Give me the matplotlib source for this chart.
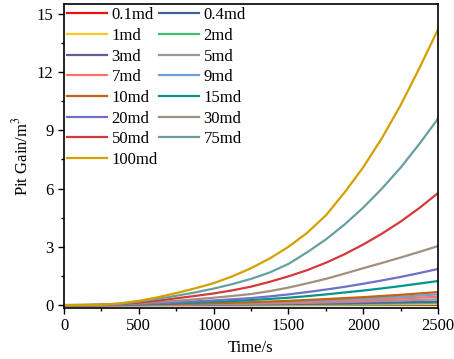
import numpy as np
import matplotlib.pyplot as plt
from matplotlib.ticker import MultipleLocator

plt.rcParams['font.family'] = ['Liberation Serif', 'DejaVu Serif']
plt.rcParams['mathtext.fontset'] = 'stix'

time = [0, 125, 250, 375, 500, 625, 750, 875, 1000, 1125, 1250,
        1375, 1500, 1625, 1750, 1875, 2000, 2125, 2250, 2375, 2500]

labels = ["0.1md", "0.4md", "1md", "2md", "3md", "5md", "7md", "9md",
          "10md", "15md", "20md", "30md", "50md", "75md", "100md"]
colors = ["#F01010", "#3A6496", "#FFC61E", "#3CC070", "#5E5E9A", "#999999",
          "#FF7070", "#6FA0D8", "#C8620A", "#00968C", "#7070C8", "#A09080",
          "#D33A3A", "#66A0A0", "#D4A000"]

# pit gain (m3)
gain = [
    [0, 0, 0, 0, 0, 0.0005, 0.0005, 0.001, 0.001, 0.001, 0.0015,
     0.0015, 0.002, 0.0025, 0.003, 0.0035, 0.004, 0.0045, 0.005, 0.0055, 0.006],
    [0, 0, 0, 0.0005, 0.001, 0.0015, 0.002, 0.003, 0.004, 0.005, 0.006,
     0.007, 0.008, 0.0095, 0.011, 0.013, 0.015, 0.017, 0.02, 0.022, 0.025],
    [0, 0, 0, 0.001, 0.003, 0.004, 0.006, 0.008, 0.01, 0.012, 0.014,
     0.017, 0.02, 0.024, 0.028, 0.032, 0.037, 0.042, 0.048, 0.054, 0.06],
    [0, 0.0001, 0.001, 0.002, 0.005, 0.008, 0.011, 0.014, 0.018, 0.022, 0.027,
     0.033, 0.039, 0.046, 0.054, 0.063, 0.073, 0.084, 0.095, 0.107, 0.12],
    [0, 0.0001, 0.001, 0.003, 0.008, 0.012, 0.016, 0.021, 0.027, 0.033, 0.04,
     0.049, 0.058, 0.069, 0.081, 0.095, 0.11, 0.126, 0.143, 0.161, 0.18],
    [0, 0.0002, 0.001, 0.005, 0.013, 0.02, 0.027, 0.036, 0.045, 0.056, 0.068,
     0.082, 0.098, 0.117, 0.136, 0.158, 0.183, 0.21, 0.238, 0.268, 0.3],
    [0, 0.0003, 0.001, 0.008, 0.019, 0.029, 0.039, 0.052, 0.065, 0.08, 0.097,
     0.118, 0.14, 0.168, 0.195, 0.228, 0.262, 0.3, 0.34, 0.385, 0.43],
    [0, 0.0004, 0.002, 0.01, 0.024, 0.037, 0.05, 0.066, 0.083, 0.103, 0.124,
     0.152, 0.18, 0.216, 0.25, 0.29, 0.335, 0.385, 0.435, 0.49, 0.55],
    [0, 0.0005, 0.002, 0.012, 0.03, 0.045, 0.06, 0.08, 0.1, 0.125, 0.15,
     0.185, 0.22, 0.265, 0.31, 0.36, 0.41, 0.47, 0.53, 0.6, 0.67],
    [0, 0.001, 0.004, 0.02, 0.045, 0.07, 0.1, 0.135, 0.17, 0.21, 0.26,
     0.32, 0.38, 0.46, 0.55, 0.65, 0.75, 0.86, 0.98, 1.11, 1.24],
    [0, 0.001, 0.005, 0.025, 0.055, 0.095, 0.14, 0.19, 0.24, 0.3, 0.36,
     0.45, 0.55, 0.67, 0.8, 0.94, 1.1, 1.27, 1.45, 1.65, 1.86],
    [0, 0.002, 0.01, 0.04, 0.09, 0.15, 0.22, 0.3, 0.38, 0.47, 0.57,
     0.72, 0.9, 1.12, 1.35, 1.62, 1.9, 2.17, 2.45, 2.74, 3.04],
    [0, 0.003, 0.01, 0.05, 0.13, 0.23, 0.35, 0.47, 0.6, 0.76, 0.95,
     1.2, 1.48, 1.8, 2.18, 2.62, 3.12, 3.68, 4.3, 5.0, 5.77],
    [0, 0.004, 0.02, 0.07, 0.18, 0.32, 0.48, 0.65, 0.85, 1.08, 1.35,
     1.68, 2.12, 2.72, 3.38, 4.15, 5.02, 6.0, 7.08, 8.3, 9.6],
    [0, 0.005, 0.02, 0.09, 0.22, 0.4, 0.62, 0.86, 1.13, 1.48, 1.9,
     2.4, 3.0, 3.72, 4.62, 5.8, 7.1, 8.6, 10.3, 12.2, 14.2],
]

fig = plt.figure(figsize=(4.54, 3.59), dpi=100)
ax = fig.add_axes([0.141, 0.142, 0.824, 0.847])

lines = []
for lab, col, vals in zip(labels, colors, gain):
    ln, = ax.plot(time, vals, color=col, lw=1.6, label=lab)
    lines.append(ln)

ax.set_xlim(0, 2500)
ax.set_ylim(-0.15, 15.5)
ax.xaxis.set_major_locator(MultipleLocator(500))
ax.xaxis.set_minor_locator(MultipleLocator(250))
ax.yaxis.set_major_locator(MultipleLocator(3))
ax.yaxis.set_minor_locator(MultipleLocator(1.5))
ax.tick_params(which='both', direction='out', labelsize=12, width=1)
ax.tick_params(which='major', length=4)
ax.tick_params(which='minor', length=2.5)
for s in ax.spines.values():
    s.set_linewidth(1.2)

ax.set_xlabel("Time/s", fontsize=12)
ax.set_ylabel("Pit Gain/m$^3$", fontsize=12)

# legend filled row by row
order = list(range(0, 15, 2)) + list(range(1, 15, 2))
ax.legend([lines[i] for i in order], [labels[i] for i in order],
          loc='upper left', ncol=2, frameon=False, fontsize=12,
          handlelength=2.4, handletextpad=0.25, columnspacing=0.1,
          labelspacing=0.28, borderaxespad=0.1, borderpad=0.1)

fig.savefig("out.png", dpi=100)
